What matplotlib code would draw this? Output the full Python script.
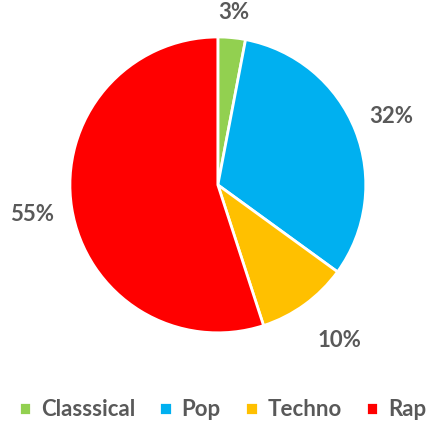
import matplotlib.pyplot as plt
import numpy as np

genres = ["Classsical", "Pop", "Techno", "Rap"]
shares = [3, 32, 10, 55]
colors = ["#92D050", "#00B0F0", "#FFC000", "#FF0000"]
label_dist = [1.17, 1.26, 1.30, 1.27]

plt.rcParams['font.family'] = ['Lato', 'DejaVu Sans']
gray = "#595959"

fig = plt.figure(figsize=(4.28, 4.30), dpi=100)
ax = fig.add_axes([0.163, 0.226, 0.692, 0.688])

wedges, texts, autotexts = ax.pie(
    shares, colors=colors, startangle=90, counterclock=False,
    autopct="%d%%", pctdistance=1.25, radius=1,
    wedgeprops=dict(edgecolor="white", linewidth=2),
    textprops=dict(color=gray, fontsize=16, fontweight="bold"))

# push each percentage out along its wedge's mid angle
for w, t, d in zip(wedges, autotexts, label_dist):
    a = np.deg2rad((w.theta1 + w.theta2) / 2)
    t.set_position((d * np.cos(a), d * np.sin(a)))
autotexts[2].set_x(autotexts[2].get_position()[0] + 0.06)

ax.set_xlim(-1, 1)
ax.set_ylim(-1, 1)
ax.set_aspect("equal")

fig.legend(wedges, genres, loc="center", bbox_to_anchor=(0.52, 1 - 410 / 430),
           ncol=4, frameon=False, handlelength=0.55, handleheight=0.55,
           handletextpad=0.45, columnspacing=1.1,
           prop=dict(size=16, weight="bold"), labelcolor=gray)

fig.savefig("out.png", dpi=100)
